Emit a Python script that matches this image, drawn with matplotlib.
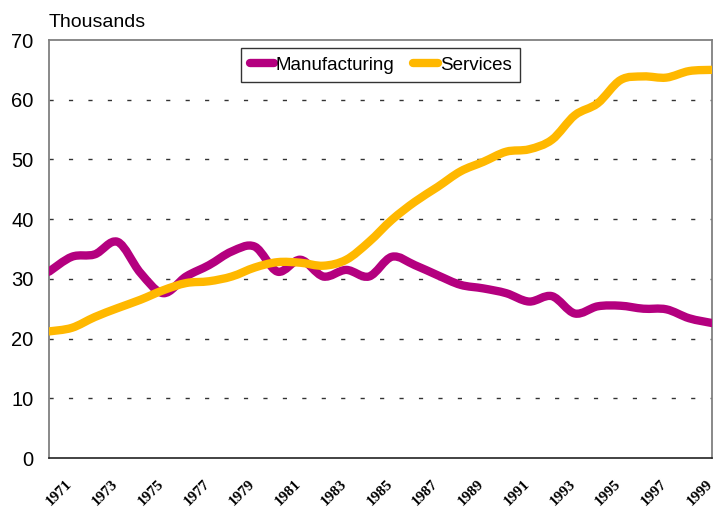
import matplotlib
matplotlib.use("Agg")
import matplotlib.pyplot as plt
import matplotlib.transforms as mtransforms
from matplotlib.path import Path
from matplotlib.patches import PathPatch
from matplotlib.lines import Line2D
import numpy as np

years = list(range(1970, 2000))
manufacturing = [31.2, 33.7, 34.1, 36.2, 31.0, 27.6, 30.4, 32.3, 34.6, 35.4,
                 31.2, 33.2, 30.4, 31.5, 30.4, 33.7, 32.3, 30.6, 29.0, 28.4,
                 27.6, 26.2, 27.1, 24.2, 25.4, 25.5, 25.0, 24.9, 23.4, 22.6]
services = [21.2, 21.8, 23.6, 25.1, 26.5, 28.1, 29.3, 29.6, 30.4, 31.9,
            32.8, 32.7, 32.2, 33.2, 36.2, 39.9, 42.9, 45.4, 48.0, 49.6,
            51.3, 51.7, 53.3, 57.4, 59.4, 63.3, 63.9, 63.7, 64.8, 65.0]
tick_years = list(range(1971, 2000, 2))

mag = "#B4007F"
yel = "#FFB800"

plt.rcParams['font.family'] = ['Liberation Sans', 'DejaVu Sans']

fig = plt.figure(figsize=(7.15, 5.09), dpi=100)
ax = fig.add_axes([49 / 715, 1 - 458 / 509, 663 / 715, 418 / 509])


def smooth_path(x, y):
    # bezier smoothing like a spreadsheet "smoothed line"
    x = np.asarray(x, float)
    y = np.asarray(y, float)
    n = len(x)
    verts = [(x[0], y[0])]
    codes = [Path.MOVETO]
    for i in range(n - 1):
        p0 = np.array([x[max(i - 1, 0)], y[max(i - 1, 0)]])
        p1 = np.array([x[i], y[i]])
        p2 = np.array([x[i + 1], y[i + 1]])
        p3 = np.array([x[min(i + 2, n - 1)], y[min(i + 2, n - 1)]])
        c1 = p1 + (p2 - p0) / 6
        c2 = p2 - (p3 - p1) / 6
        verts += [tuple(c1), tuple(c2), tuple(p2)]
        codes += [Path.CURVE4] * 3
    return Path(verts, codes)


for vals, col in [(manufacturing, mag), (services, yel)]:
    patch = PathPatch(smooth_path(years, vals), fill=False, edgecolor=col,
                      lw=6, capstyle='round', joinstyle='round', zorder=3)
    ax.add_patch(patch)

ax.set_xlim(1970, 1999)
ax.set_ylim(0, 70)

for v in range(10, 70, 10):
    ax.axhline(v, color="#333333", lw=1, dashes=(3, 11), zorder=1)

ax.set_yticks(range(0, 71, 10))
ax.tick_params(axis='y', length=0, pad=11, labelsize=14.5)
ax.set_xticks(tick_years)
ax.set_xticklabels([str(t) for t in tick_years], rotation=45, ha='right',
                   va='top', fontfamily='Liberation Serif', fontweight='bold',
                   fontsize=11)
ax.tick_params(axis='x', length=0, pad=14)
shift = mtransforms.ScaledTranslation(3 / 100, 0, fig.dpi_scale_trans)
for lab in ax.get_xticklabels():
    lab.set_transform(lab.get_transform() + shift)

for s in ['left', 'right', 'top']:
    ax.spines[s].set_color("#808080")
    ax.spines[s].set_linewidth(1.3)
ax.spines['bottom'].set_color("#222222")
ax.spines['bottom'].set_linewidth(1.2)

handles = [Line2D([], [], color=mag, lw=6, solid_capstyle='round'),
           Line2D([], [], color=yel, lw=6, solid_capstyle='round')]
leg = ax.legend(handles, ["Manufacturing", "Services"], loc='upper center',
                bbox_to_anchor=(0.5, 0.981), ncol=2, fontsize=13.5,
                handlelength=1.3, handletextpad=0.1, columnspacing=1.0,
                fancybox=False, framealpha=1, edgecolor="#333333",
                borderpad=0.45, borderaxespad=0)
leg.get_frame().set_linewidth(1)

fig.text(49 / 715, 1 - 27 / 509, "Thousands", fontsize=14, va='baseline', ha='left')

fig.savefig("out.png", dpi=100)
